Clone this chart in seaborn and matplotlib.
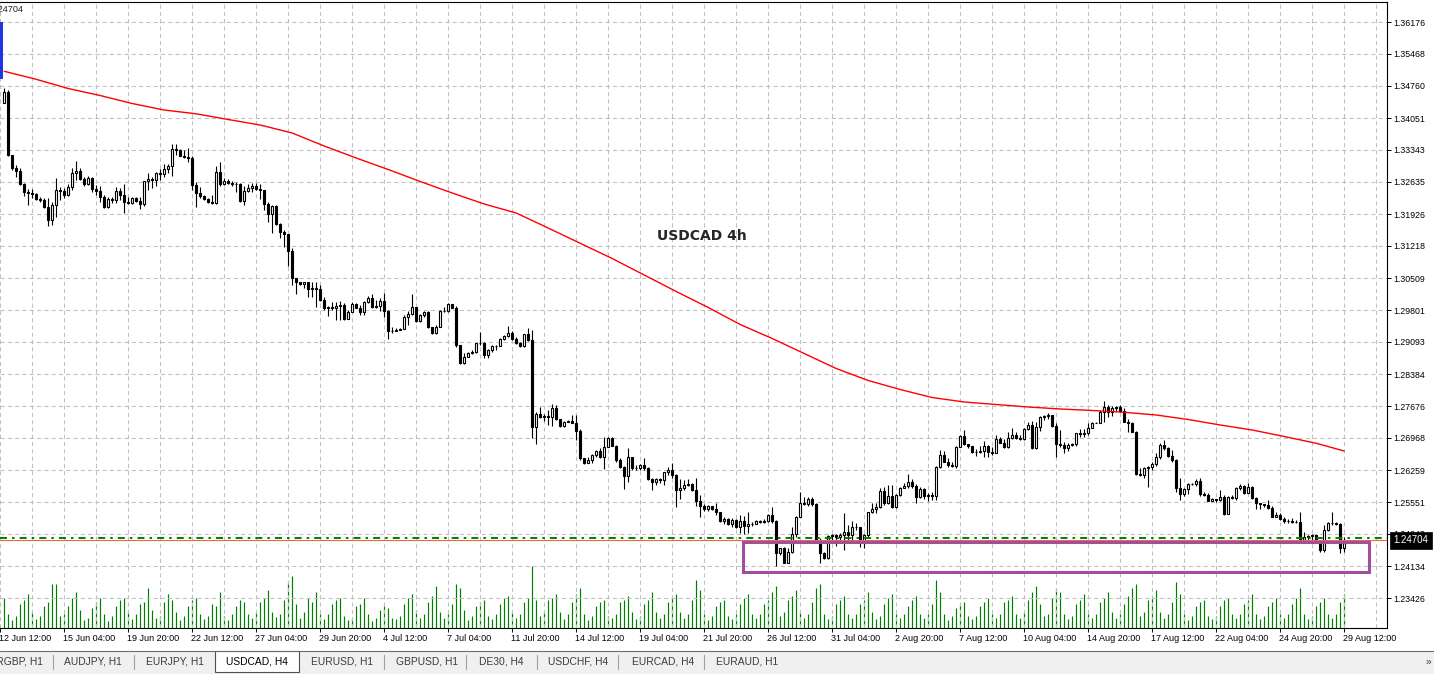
import matplotlib
matplotlib.use("Agg")
import matplotlib.pyplot as plt
import matplotlib.transforms as mtransforms
from matplotlib.patches import Rectangle
from matplotlib.lines import Line2D
import numpy as np
import pandas as pd
import seaborn as sns

# ---------------- data (USDCAD, H4) ----------------
first_open = 1.3439

close = [
    1.3463, 1.3323, 1.3294, 1.3288, 1.3259, 1.3241, 1.3239, 1.3237, 1.3226, 1.3224,
    1.3208, 1.3179, 1.3212, 1.3246, 1.3244, 1.3235, 1.3252, 1.3283, 1.3288, 1.3270,
    1.3259, 1.3272, 1.3248, 1.3244, 1.3230, 1.3208, 1.3226, 1.3224, 1.3244, 1.3235,
    1.3219, 1.3217, 1.3228, 1.3221, 1.3215, 1.3266, 1.3270, 1.3268, 1.3283, 1.3281,
    1.3292, 1.3299, 1.3336, 1.3335, 1.3322, 1.3318, 1.3316, 1.3257, 1.3239, 1.3232,
    1.3226, 1.3219, 1.3217, 1.3286, 1.3259, 1.3266, 1.3261, 1.3260, 1.3258, 1.3222,
    1.3244, 1.3250, 1.3255, 1.3248, 1.3245, 1.3215, 1.3192, 1.3210, 1.3170, 1.3153,
    1.3149, 1.3111, 1.3051, 1.3041, 1.3038, 1.3042, 1.3027, 1.3028, 1.3026, 1.3002,
    1.2984, 1.2987, 1.2984, 1.2989, 1.2991, 1.2960, 1.2976, 1.2993, 1.2985, 1.2975,
    1.2998, 1.3006, 1.2987, 1.2988, 1.2999, 1.2978, 1.2934, 1.2933, 1.2936, 1.2937,
    1.2964, 1.2971, 1.2986, 1.2956, 1.2969, 1.2975, 1.2942, 1.2929, 1.2943, 1.2978,
    1.2977, 1.2993, 1.2985, 1.2903, 1.2862, 1.2877, 1.2884, 1.2888, 1.2906, 1.2908,
    1.2881, 1.2892, 1.2901, 1.2900, 1.2916, 1.2922, 1.2929, 1.2915, 1.2906, 1.2900,
    1.2926, 1.2914, 1.2722, 1.2751, 1.2744, 1.2746, 1.2743, 1.2763, 1.2738, 1.2723,
    1.2733, 1.2735, 1.2731, 1.2713, 1.2652, 1.2641, 1.2647, 1.2659, 1.2669, 1.2655,
    1.2677, 1.2696, 1.2680, 1.2647, 1.2633, 1.2613, 1.2654, 1.2630, 1.2631, 1.2636,
    1.2630, 1.2606, 1.2599, 1.2605, 1.2604, 1.2621, 1.2626, 1.2615, 1.2582, 1.2587,
    1.2593, 1.2595, 1.2582, 1.2557, 1.2546, 1.2539, 1.2546, 1.2539, 1.2534, 1.2512,
    1.2517, 1.2507, 1.2515, 1.2499, 1.2514, 1.2503, 1.2507, 1.2506, 1.2512, 1.2511,
    1.2513, 1.2526, 1.2512, 1.2443, 1.2453, 1.2421, 1.2445, 1.2484, 1.2523, 1.2552,
    1.2551, 1.2561, 1.2551, 1.2471, 1.2442, 1.2431, 1.2480, 1.2481, 1.2478, 1.2482,
    1.2488, 1.2481, 1.2499, 1.2500, 1.2467, 1.2482, 1.2532, 1.2540, 1.2543, 1.2580,
    1.2554, 1.2568, 1.2545, 1.2571, 1.2585, 1.2591, 1.2599, 1.2591, 1.2567, 1.2583,
    1.2568, 1.2571, 1.2569, 1.2632, 1.2659, 1.2644, 1.2636, 1.2634, 1.2677, 1.2701,
    1.2683, 1.2679, 1.2666, 1.2665, 1.2669, 1.2679, 1.2666, 1.2664, 1.2694, 1.2686,
    1.2676, 1.2696, 1.2703, 1.2696, 1.2695, 1.2716, 1.2726, 1.2674, 1.2722, 1.2744,
    1.2746, 1.2748, 1.2724, 1.2683, 1.2682, 1.2674, 1.2681, 1.2683, 1.2707, 1.2706,
    1.2708, 1.2720, 1.2731, 1.2730, 1.2755, 1.2766, 1.2755, 1.2763, 1.2765, 1.2757,
    1.2733, 1.2731, 1.2711, 1.2617, 1.2614, 1.2630, 1.2633, 1.2639, 1.2655, 1.2681,
    1.2674, 1.2657, 1.2647, 1.2587, 1.2573, 1.2584, 1.2594, 1.2595, 1.2602, 1.2572,
    1.2571, 1.2558, 1.2561, 1.2560, 1.2567, 1.2529, 1.2566, 1.2565, 1.2585, 1.2591,
    1.2576, 1.2589, 1.2563, 1.2552, 1.2551, 1.2549, 1.2541, 1.2523, 1.2526, 1.2518,
    1.2514, 1.2512, 1.2511, 1.2510, 1.2471, 1.2478, 1.2480, 1.2481, 1.2469, 1.2449,
    1.2493, 1.2509, 1.2508, 1.2507, 1.2453, 1.24704,
]

high = [
    1.3472, 1.3467, 1.3323, 1.3301, 1.3294, 1.3261, 1.3248, 1.3248, 1.3239, 1.3230,
    1.3228, 1.3228, 1.3219, 1.3272, 1.3252, 1.3250, 1.3259, 1.3294, 1.3310, 1.3294,
    1.3274, 1.3277, 1.3274, 1.3257, 1.3255, 1.3235, 1.3230, 1.3230, 1.3252, 1.3250,
    1.3259, 1.3230, 1.3230, 1.3230, 1.3230, 1.3266, 1.3283, 1.3274, 1.3286, 1.3292,
    1.3303, 1.3303, 1.3347, 1.3347, 1.3336, 1.3334, 1.3339, 1.3321, 1.3263, 1.3252,
    1.3235, 1.3228, 1.3235, 1.3299, 1.3308, 1.3272, 1.3270, 1.3266, 1.3263, 1.3261,
    1.3255, 1.3259, 1.3261, 1.3261, 1.3259, 1.3246, 1.3219, 1.3212, 1.3212, 1.3173,
    1.3157, 1.3148, 1.3117, 1.3049, 1.3043, 1.3043, 1.3041, 1.3041, 1.3041, 1.3035,
    1.3009, 1.2990, 1.2998, 1.2998, 1.3000, 1.2996, 1.2980, 1.2998, 1.2996, 1.2991,
    1.3001, 1.3011, 1.3016, 1.3002, 1.3006, 1.3017, 1.2980, 1.2942, 1.2940, 1.2940,
    1.2968, 1.2979, 1.3016, 1.2987, 1.2971, 1.2979, 1.2978, 1.2943, 1.2947, 1.2980,
    1.2987, 1.2996, 1.2993, 1.2989, 1.2903, 1.2884, 1.2888, 1.2892, 1.2908, 1.2932,
    1.2910, 1.2894, 1.2902, 1.2903, 1.2918, 1.2925, 1.2945, 1.2934, 1.2921, 1.2910,
    1.2927, 1.2940, 1.2936, 1.2754, 1.2766, 1.2751, 1.2759, 1.2772, 1.2770, 1.2738,
    1.2734, 1.2737, 1.2748, 1.2748, 1.2716, 1.2652, 1.2655, 1.2661, 1.2670, 1.2674,
    1.2700, 1.2700, 1.2700, 1.2681, 1.2652, 1.2635, 1.2674, 1.2655, 1.2637, 1.2639,
    1.2652, 1.2633, 1.2608, 1.2608, 1.2608, 1.2622, 1.2633, 1.2641, 1.2617, 1.2605,
    1.2604, 1.2605, 1.2598, 1.2609, 1.2571, 1.2551, 1.2549, 1.2547, 1.2554, 1.2533,
    1.2521, 1.2520, 1.2519, 1.2517, 1.2526, 1.2524, 1.2533, 1.2510, 1.2515, 1.2515,
    1.2517, 1.2528, 1.2543, 1.2515, 1.2454, 1.2455, 1.2453, 1.2500, 1.2524, 1.2578,
    1.2567, 1.2567, 1.2567, 1.2552, 1.2475, 1.2445, 1.2482, 1.2484, 1.2484, 1.2486,
    1.2530, 1.2504, 1.2514, 1.2508, 1.2500, 1.2484, 1.2534, 1.2554, 1.2552, 1.2586,
    1.2588, 1.2593, 1.2593, 1.2572, 1.2589, 1.2597, 1.2617, 1.2605, 1.2595, 1.2588,
    1.2586, 1.2574, 1.2578, 1.2635, 1.2670, 1.2667, 1.2652, 1.2644, 1.2679, 1.2703,
    1.2715, 1.2681, 1.2679, 1.2672, 1.2679, 1.2691, 1.2681, 1.2677, 1.2703, 1.2698,
    1.2694, 1.2709, 1.2720, 1.2711, 1.2703, 1.2718, 1.2733, 1.2735, 1.2733, 1.2746,
    1.2748, 1.2753, 1.2748, 1.2729, 1.2715, 1.2689, 1.2685, 1.2686, 1.2708, 1.2716,
    1.2716, 1.2729, 1.2733, 1.2733, 1.2759, 1.2779, 1.2770, 1.2768, 1.2768, 1.2770,
    1.2763, 1.2738, 1.2733, 1.2713, 1.2630, 1.2633, 1.2635, 1.2644, 1.2664, 1.2685,
    1.2692, 1.2676, 1.2670, 1.2650, 1.2608, 1.2586, 1.2597, 1.2597, 1.2605, 1.2608,
    1.2578, 1.2576, 1.2563, 1.2562, 1.2582, 1.2570, 1.2568, 1.2571, 1.2589, 1.2595,
    1.2593, 1.2598, 1.2591, 1.2566, 1.2554, 1.2551, 1.2560, 1.2546, 1.2534, 1.2530,
    1.2523, 1.2518, 1.2519, 1.2515, 1.2534, 1.2489, 1.2482, 1.2484, 1.2482, 1.2471,
    1.2504, 1.2511, 1.2534, 1.2511, 1.2509, 1.2478,
]

low = [
    1.3438, 1.3321, 1.3290, 1.3274, 1.3257, 1.3232, 1.3212, 1.3228, 1.3224, 1.3219,
    1.3206, 1.3166, 1.3168, 1.3186, 1.3224, 1.3228, 1.3232, 1.3246, 1.3268, 1.3268,
    1.3255, 1.3257, 1.3241, 1.3235, 1.3219, 1.3206, 1.3206, 1.3217, 1.3217, 1.3224,
    1.3195, 1.3215, 1.3215, 1.3219, 1.3204, 1.3210, 1.3246, 1.3250, 1.3255, 1.3268,
    1.3274, 1.3283, 1.3277, 1.3323, 1.3320, 1.3316, 1.3308, 1.3246, 1.3208, 1.3228,
    1.3224, 1.3217, 1.3215, 1.3215, 1.3255, 1.3257, 1.3259, 1.3255, 1.3241, 1.3219,
    1.3212, 1.3241, 1.3241, 1.3246, 1.3226, 1.3202, 1.3175, 1.3150, 1.3168, 1.3140,
    1.3119, 1.3078, 1.3035, 1.3016, 1.3035, 1.3028, 1.3009, 1.3009, 1.2987, 1.3000,
    1.2981, 1.2966, 1.2980, 1.2958, 1.2958, 1.2958, 1.2969, 1.2976, 1.2984, 1.2969,
    1.2969, 1.2996, 1.2984, 1.2985, 1.2978, 1.2965, 1.2915, 1.2930, 1.2933, 1.2935,
    1.2937, 1.2947, 1.2969, 1.2954, 1.2954, 1.2965, 1.2941, 1.2927, 1.2926, 1.2942,
    1.2976, 1.2976, 1.2984, 1.2899, 1.2860, 1.2860, 1.2876, 1.2883, 1.2886, 1.2903,
    1.2873, 1.2873, 1.2888, 1.2892, 1.2900, 1.2914, 1.2920, 1.2914, 1.2905, 1.2899,
    1.2899, 1.2911, 1.2696, 1.2683, 1.2740, 1.2735, 1.2726, 1.2723, 1.2737, 1.2722,
    1.2722, 1.2733, 1.2729, 1.2692, 1.2648, 1.2640, 1.2642, 1.2642, 1.2655, 1.2652,
    1.2628, 1.2676, 1.2679, 1.2644, 1.2630, 1.2583, 1.2600, 1.2626, 1.2626, 1.2627,
    1.2626, 1.2604, 1.2582, 1.2593, 1.2597, 1.2593, 1.2615, 1.2608, 1.2543, 1.2561,
    1.2582, 1.2591, 1.2580, 1.2547, 1.2523, 1.2536, 1.2536, 1.2537, 1.2526, 1.2511,
    1.2507, 1.2504, 1.2500, 1.2497, 1.2486, 1.2484, 1.2486, 1.2502, 1.2506, 1.2508,
    1.2508, 1.2510, 1.2508, 1.2413, 1.2438, 1.2420, 1.2421, 1.2442, 1.2478, 1.2521,
    1.2549, 1.2546, 1.2546, 1.2467, 1.2421, 1.2428, 1.2428, 1.2469, 1.2458, 1.2467,
    1.2449, 1.2471, 1.2465, 1.2493, 1.2456, 1.2453, 1.2478, 1.2531, 1.2531, 1.2541,
    1.2549, 1.2551, 1.2541, 1.2541, 1.2569, 1.2585, 1.2585, 1.2585, 1.2554, 1.2563,
    1.2561, 1.2558, 1.2560, 1.2560, 1.2630, 1.2643, 1.2633, 1.2632, 1.2631, 1.2676,
    1.2681, 1.2674, 1.2664, 1.2657, 1.2663, 1.2655, 1.2654, 1.2659, 1.2663, 1.2685,
    1.2674, 1.2674, 1.2694, 1.2694, 1.2692, 1.2693, 1.2715, 1.2672, 1.2672, 1.2713,
    1.2737, 1.2738, 1.2722, 1.2655, 1.2676, 1.2663, 1.2669, 1.2678, 1.2679, 1.2700,
    1.2700, 1.2703, 1.2719, 1.2729, 1.2729, 1.2732, 1.2744, 1.2746, 1.2757, 1.2755,
    1.2732, 1.2711, 1.2709, 1.2615, 1.2613, 1.2608, 1.2589, 1.2626, 1.2635, 1.2650,
    1.2670, 1.2655, 1.2644, 1.2578, 1.2560, 1.2568, 1.2573, 1.2593, 1.2591, 1.2568,
    1.2568, 1.2557, 1.2558, 1.2556, 1.2557, 1.2526, 1.2528, 1.2561, 1.2560, 1.2582,
    1.2573, 1.2574, 1.2562, 1.2540, 1.2540, 1.2543, 1.2540, 1.2521, 1.2521, 1.2515,
    1.2509, 1.2509, 1.2508, 1.2508, 1.2469, 1.2469, 1.2471, 1.2469, 1.2467, 1.2445,
    1.2445, 1.2492, 1.2504, 1.2504, 1.2442, 1.2445,
]

# tick volume (hundreds of ticks), one value per 4h candle
volume = [
    30, 14,
    8, 12, 24, 28, 34, 16,   9, 12, 22, 26, 44, 44,   12, 14, 22, 30, 36, 18,
    8, 10, 20, 26, 30, 14,
    7, 12, 22, 28, 30, 16,   9, 14, 24, 26, 40, 18,   10, 12, 26, 34, 28, 16,
    8, 12, 22, 28, 30, 14,   9, 12, 24, 22, 36, 12,
    8, 14, 22, 28, 26, 14,   10, 16, 26, 30, 38, 16,  11, 14, 28, 46, 52, 24,
    10, 16, 30, 26, 36, 14,  9, 14, 24, 28, 30, 12,
    8, 10, 22, 24, 30, 14,   7, 10, 18, 22, 20, 10,   9, 12, 24, 30, 34, 18,
    10, 14, 26, 32, 42, 16,  10, 14, 24, 44, 40, 18,
    8, 12, 22, 26, 28, 12,   9, 14, 24, 30, 32, 16,   10, 14, 26, 30, 62, 28,
    12, 16, 28, 30, 34, 16,  9, 14, 26, 34, 40, 14,
    8, 12, 22, 26, 28, 12,   10, 14, 26, 28, 32, 16,  9, 12, 24, 28, 36, 16,
    10, 14, 26, 30, 34, 16,  10, 14, 28, 48, 38, 14,
    8, 12, 22, 26, 28, 12,   9, 14, 24, 30, 34, 14,   10, 14, 24, 28, 36, 42,
    12, 16, 28, 32, 38, 16,  10, 14, 26, 40, 44, 14,
    9, 12, 24, 28, 32, 14,   10, 14, 24, 28, 36, 16,  9, 12, 24, 30, 34, 14,
    10, 14, 22, 28, 32, 14,  10, 14, 24, 48, 36, 14,
    8, 12, 20, 24, 26, 12,   9, 12, 22, 26, 30, 14,   10, 14, 26, 28, 32, 14,
    10, 16, 28, 36, 42, 24,  12, 14, 30, 40, 36, 14,
    9, 12, 24, 28, 34, 14,   10, 14, 26, 30, 36, 16,  10, 14, 24, 32, 40, 44,
    12, 16, 28, 32, 38, 16,  10, 14, 26, 46, 34, 14,
    8, 12, 22, 26, 28, 12,   9, 12, 22, 28, 30, 14,   10, 14, 24, 28, 34, 14,
    9, 12, 22, 26, 30, 14,   10, 14, 24, 30, 40, 14,
    9, 12, 22, 26, 30, 14,
    10, 14, 26, 34,
]

# moving average (red), sampled every 8 candles
ma_index = [0, 8, 16, 24, 32, 40, 48, 56, 64, 72, 80, 88, 96, 104, 112, 120, 128,
            136, 144, 152, 160, 168, 176, 184, 192, 200, 208, 216, 224, 232, 240,
            248, 256, 264, 272, 280, 288, 296, 304, 312, 320, 328, 335]
ma_value = [1.35085, 1.34908, 1.34704, 1.34549, 1.34372, 1.34228, 1.34144, 1.34018,
            1.33896, 1.33719, 1.33431, 1.33166, 1.32911, 1.32646, 1.32391, 1.32148,
            1.31948, 1.31616, 1.31278, 1.30941, 1.30576, 1.30211, 1.29857, 1.29480,
            1.29170, 1.28838, 1.28506, 1.28241, 1.28041, 1.27864, 1.27765, 1.27709,
            1.27654, 1.27610, 1.27577, 1.27537, 1.27477, 1.27377, 1.27256, 1.27145,
            1.27001, 1.26851, 1.26680]

price_ticks = [1.36176, 1.35468, 1.34760, 1.34051, 1.33343, 1.32635, 1.31926,
               1.31218, 1.30509, 1.29801, 1.29093, 1.28384, 1.27676, 1.26968,
               1.26259, 1.25551, 1.24843, 1.24134, 1.23426]

time_labels = ["12 Jun 12:00", "15 Jun 04:00", "19 Jun 20:00", "22 Jun 12:00",
               "27 Jun 04:00", "29 Jun 20:00", "4 Jul 12:00", "7 Jul 04:00",
               "11 Jul 20:00", "14 Jul 12:00", "19 Jul 04:00", "21 Jul 20:00",
               "26 Jul 12:00", "31 Jul 04:00", "2 Aug 20:00", "7 Aug 12:00",
               "10 Aug 04:00", "14 Aug 20:00", "17 Aug 12:00", "22 Aug 04:00",
               "24 Aug 20:00", "29 Aug 12:00"]

ask_price = 1.24745
zone_top, zone_bottom = 1.2466, 1.2400      # support box drawn on chart
zone_start, zone_end = 184.6, 341.3          # in candle units
title_pos = (163.2, 1.3144)

tabs = ["AUDJPY, H1", "EURJPY, H1", "USDCAD, H4", "EURUSD, H1", "GBPUSD, H1",
        "DE30, H4", "USDCHF, H4", "EURCAD, H4", "EURAUD, H1"]
tab_x = [64, 146, 226, 311, 396, 479, 548, 632, 716]

# ---------------- figure ----------------
sns.set_theme(style="white")
plt.rcParams["font.family"] = ["Liberation Sans", "DejaVu Sans"]

W, H = 1434, 674
fig = plt.figure(figsize=(W / 100, H / 100), dpi=100)
fig.patch.set_facecolor("white")


def fx(px):
    return px / W


def fy(py):
    return 1 - py / H


ax = fig.add_axes([0, fy(628), fx(1387), (628 - 2) / H])
ax2 = ax.twinx()
ax.set_zorder(ax2.get_zorder() + 1)
ax.patch.set_visible(False)

df = pd.DataFrame({"close": close, "high": high, "low": low})
df["open"] = [first_open] + close[:-1]
df["idx"] = np.arange(len(df))

# volumes
ax2.vlines(df["idx"], 0, volume, colors="#008000", lw=0.85)
ax2.set_ylim(0, max(volume) * 626 / 62)
ax2.set_yticks([])
for s in ax2.spines.values():
    s.set_visible(False)

# candles
up = df["close"] >= df["open"]
body_lo = np.minimum(df["open"], df["close"])
body_hi = np.maximum(df["open"], df["close"])
wick_lo = np.minimum(df["low"], body_lo)
wick_hi = np.maximum(df["high"], body_hi)
ax.vlines(df["idx"], wick_lo, wick_hi, colors="black", lw=0.8, zorder=3)
ax.bar(df["idx"], body_hi - body_lo, bottom=body_lo, width=0.5,
       color=np.where(up, "white", "black"), edgecolor="black",
       linewidth=0.8, zorder=4)

# moving average
sns.lineplot(x=ma_index, y=ma_value, ax=ax, color="#FF0000", lw=1.0, zorder=5)

# bid / ask lines
ax.axhline(close[-1], color="#F0683A", lw=0.8, zorder=6)
ax.axhline(ask_price, color="#008000", lw=1.4, dashes=(3.6, 2.6, 1.3, 2.6), zorder=6)

# support zone
ax.add_patch(Rectangle((zone_start, zone_bottom), zone_end - zone_start,
                       zone_top - zone_bottom, fill=False, ec="#A04EA0",
                       lw=2.2, zorder=7))

ax.text(title_pos[0], title_pos[1], "USDCAD 4h", fontsize=10, fontweight="bold",
        family="DejaVu Sans", ha="left", va="center", zorder=8)

# axes, ticks, grid
ax.set_xlim(-1.05, 345.7)
ax.set_ylim(1.22762, 1.36619)
ax.set_xlabel("")
ax.set_ylabel("")

label_idx = list(range(-1, len(close), 16))
ax.set_xticks(label_idx)
ax.set_xticklabels(time_labels)
ax.set_xticks(list(range(7, 346, 16)), minor=True)
ax.set_yticks(price_ticks)
ax.set_yticklabels([f"{p:.5f}" for p in price_ticks])
ax.yaxis.tick_right()

grid_kw = dict(color="#C0C0C0", lw=0.75, linestyle=(0, (4, 3)))
ax.xaxis.grid(True, which="both", **grid_kw)
ax.yaxis.grid(True, **grid_kw)
ax.set_axisbelow(True)

ax.tick_params(axis="x", which="major", length=3, width=0.7, pad=1.2,
               labelsize=6.5, colors="black", direction="out", bottom=True)
ax.tick_params(axis="x", which="minor", length=0)
ax.tick_params(axis="y", length=3, width=0.7, pad=1.5, labelsize=6.3,
               right=True, left=False, labelright=True, labelleft=False,
               colors="black", direction="out")

offset = mtransforms.ScaledTranslation(-1 / 100, 0, fig.dpi_scale_trans)
for lab in ax.get_xticklabels():
    lab.set_horizontalalignment("left")
    lab.set_transform(lab.get_transform() + offset)

ax.spines["left"].set_visible(False)
for side in ["top", "right", "bottom"]:
    ax.spines[side].set_color("black")
    ax.spines[side].set_linewidth(0.8)

# current price box on the price scale
trans = mtransforms.blended_transform_factory(ax.transAxes, ax.transData)
ax.text(1393.5 / 1387, close[-1], f"{close[-1]:.5f}", transform=trans,
        ha="left", va="center", color="white", fontsize=7,
        bbox=dict(boxstyle="square,pad=0.38", fc="black", ec="black", lw=0.5),
        zorder=10, clip_on=False)

# top-left leftovers of the terminal
fig.patches.append(Rectangle((0, fy(79)), fx(3), (79 - 22) / H,
                             transform=fig.transFigure, fc="#1F35E0", ec="none",
                             zorder=5))
fig.text(fx(23), fy(10), "1.24704", ha="right", va="center", fontsize=6.6,
         color="#202020")

# tab bar
fig.patches.append(Rectangle((0, 0), 1, fy(651), transform=fig.transFigure,
                             fc="#F0F0F0", ec="none", zorder=0))
fig.add_artist(Line2D([0, 1], [fy(651), fy(651)], transform=fig.transFigure,
                      color="#6E6E6E", lw=0.8))
fig.patches.append(Rectangle((fx(215), fy(672)), fx(84), (672 - 651) / H,
                             transform=fig.transFigure, fc="white",
                             ec="#505050", lw=0.8, zorder=1))
for sx in [53, 134, 384, 466, 537, 618, 704]:
    fig.add_artist(Line2D([fx(sx), fx(sx)], [fy(655), fy(669)],
                          transform=fig.transFigure, color="#A0A0A0", lw=0.8))

fig.text(fx(43), fy(661), "EURGBP, H1", ha="right", va="center", fontsize=7.4,
         color="#3C3C3C")
for name, tx in zip(tabs, tab_x):
    fig.text(fx(tx), fy(661), name, ha="left", va="center", fontsize=7.4,
             color="black" if name == "USDCAD, H4" else "#3C3C3C", zorder=3)
fig.text(fx(1428), fy(662), "\u00bb", ha="center", va="center", fontsize=7.4,
         color="#3C3C3C")

fig.savefig("out.png", dpi=100)
